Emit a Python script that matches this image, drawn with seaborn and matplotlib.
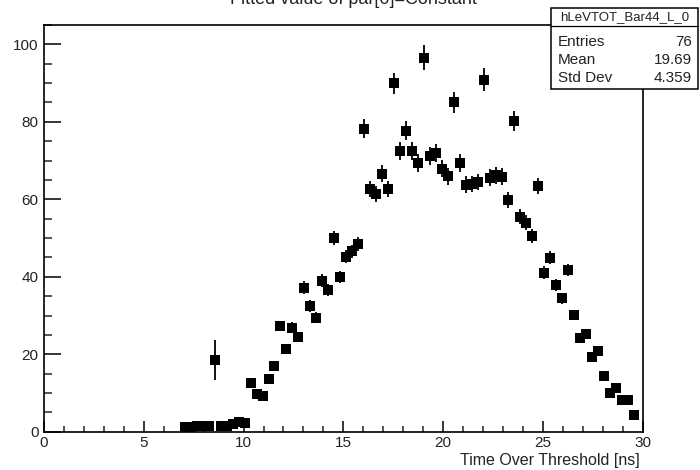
import matplotlib
matplotlib.use("Agg")
import matplotlib.pyplot as plt
from matplotlib.patches import Rectangle
from matplotlib.lines import Line2D
from matplotlib.ticker import MultipleLocator
import pandas as pd
import seaborn as sns

# ---------------- data ----------------
time_ns = [7.05, 7.35, 7.65, 7.95, 8.25, 8.55, 8.85, 9.15, 9.45, 9.75,
           10.05, 10.35, 10.65, 10.95, 11.25, 11.55, 11.85, 12.15, 12.45, 12.75,
           13.05, 13.35, 13.65, 13.95, 14.25, 14.55, 14.85, 15.15, 15.45, 15.75,
           16.05, 16.35, 16.65, 16.95, 17.25, 17.55, 17.85, 18.15, 18.45, 18.75,
           19.05, 19.35, 19.65, 19.95, 20.25, 20.55, 20.85, 21.15, 21.45, 21.75,
           22.05, 22.35, 22.65, 22.95, 23.25, 23.55, 23.85, 24.15, 24.45, 24.75,
           25.05, 25.35, 25.65, 25.95, 26.25, 26.55, 26.85, 27.15, 27.45, 27.75,
           28.05, 28.35, 28.65, 28.95, 29.25, 29.55]
constant = [1.3, 1.3, 1.4, 1.4, 1.4, 18.5, 1.5, 1.6, 2.1, 2.6,
            2.2, 12.6, 9.8, 9.2, 13.5, 16.9, 27.3, 21.4, 26.9, 24.4,
            37.2, 32.4, 29.4, 39.0, 36.6, 50.1, 39.9, 45.2, 46.6, 48.5,
            78.2, 62.6, 61.3, 66.6, 62.6, 89.9, 72.4, 77.7, 72.4, 69.4,
            96.6, 71.2, 71.9, 67.9, 66.0, 85.1, 69.4, 63.8, 64.0, 64.5,
            90.9, 65.6, 66.2, 65.8, 59.8, 80.2, 55.5, 54.0, 50.6, 63.5,
            41.1, 44.9, 37.9, 34.4, 41.7, 30.1, 24.1, 25.2, 19.3, 20.9,
            14.5, 10.1, 11.4, 8.3, 8.3, 4.4]
constant_err = [0.3, 0.3, 0.3, 0.3, 0.3, 5.2, 0.3, 0.3, 0.4, 0.4,
                0.4, 1.0, 0.9, 0.9, 1.0, 1.1, 1.4, 1.2, 1.4, 1.3,
                1.6, 1.5, 1.4, 1.6, 1.5, 1.8, 1.6, 1.7, 1.7, 1.8,
                2.5, 2.1, 2.1, 2.2, 2.1, 2.8, 2.3, 2.5, 2.3, 2.3,
                3.2, 2.3, 2.3, 2.2, 2.2, 2.7, 2.3, 2.1, 2.1, 2.1,
                2.9, 2.2, 2.2, 2.2, 2.0, 2.5, 1.9, 1.9, 1.8, 2.1,
                1.6, 1.7, 1.5, 1.4, 1.6, 1.3, 1.1, 1.1, 1.0, 1.0,
                0.8, 0.6, 0.7, 0.6, 0.6, 0.4]

title_text = "Fitted value of par[0]=Constant"
x_label = "Time Over Threshold [ns]"
hist_name = "hLeVTOT_Bar44_L_0"
stats_labels = ["Entries", "Mean", "Std Dev"]
stats_values = ["76", "19.69", "4.359"]

df = pd.DataFrame({"t": time_ns, "c": constant, "e": constant_err})

# ---------------- style ----------------
sns.set_style("white")
plt.rcParams["font.family"] = ["Liberation Sans", "DejaVu Sans"]

W, H = 700, 470
fig = plt.figure(figsize=(W / 100, H / 100), dpi=100)
ax = fig.add_axes([44 / W, 1 - 431.7 / H, (642.7 - 44) / W, (431.7 - 25) / H])

# error bars then square markers
ax.errorbar(df["t"], df["c"], yerr=df["e"], fmt="none", ecolor="black",
            elinewidth=1.3, capsize=0, zorder=2)
sns.scatterplot(data=df, x="t", y="c", marker="s", color="black", s=55,
                linewidth=0, ax=ax, zorder=3, legend=False)

ax.set_xlim(0, 30)
ax.set_ylim(0, 105)
ax.set_xlabel("")
ax.set_ylabel("")

for sp in ax.spines.values():
    sp.set_visible(True)
    sp.set_color("black")
    sp.set_linewidth(1.2)

ax.xaxis.set_major_locator(MultipleLocator(5))
ax.xaxis.set_minor_locator(MultipleLocator(1))
ax.yaxis.set_major_locator(MultipleLocator(20))
ax.yaxis.set_minor_locator(MultipleLocator(5))
ax.tick_params(axis="x", which="major", direction="in", length=8, width=1.1,
               labelsize=11, pad=3, top=False, bottom=True, colors="black")
ax.tick_params(axis="x", which="minor", direction="in", length=4, width=1.1,
               top=False, bottom=True)
ax.tick_params(axis="y", which="major", direction="in", length=12, width=1.1,
               labelsize=11, pad=4, left=True, right=False, colors="black")
ax.tick_params(axis="y", which="minor", direction="in", length=6, width=1.1,
               left=True, right=False)
for lab in ax.get_xticklabels() + ax.get_yticklabels():
    lab.set_color("#222222")

# x-axis title, right aligned like ROOT
fig.text(640 / W, 1 - 461 / H, x_label, ha="right", va="center",
         fontsize=11.5, color="#222222")

# histogram title, clipped at the top edge as in the reference
fig.text(353 / W, 1 - 4 / H, title_text, ha="center", va="baseline",
         fontsize=13, color="#222222")

# stats box
bx0, bx1 = 551 / W, 698 / W
by0, by1 = 1 - 89 / H, 1 - 8 / H
fig.add_artist(Rectangle((bx0, by0), bx1 - bx0, by1 - by0, transform=fig.transFigure,
                         facecolor="white", edgecolor="black", linewidth=1.1, zorder=5))
fig.add_artist(Line2D([bx0, bx1], [1 - 26 / H, 1 - 26 / H], transform=fig.transFigure,
                      color="black", linewidth=0.9, zorder=6))
fig.text((bx0 + bx1) / 2, 1 - 17 / H, hist_name, ha="center", va="center",
         fontsize=9.5, color="#222222", zorder=7)
row_y = [41.5, 60, 78.5]
for lab, val, ry in zip(stats_labels, stats_values, row_y):
    fig.text(558 / W, 1 - ry / H, lab, ha="left", va="center", fontsize=11,
             color="#222222", zorder=7)
    fig.text(692 / W, 1 - ry / H, val, ha="right", va="center", fontsize=11,
             color="#222222", zorder=7)

fig.savefig("out.png", dpi=100)
